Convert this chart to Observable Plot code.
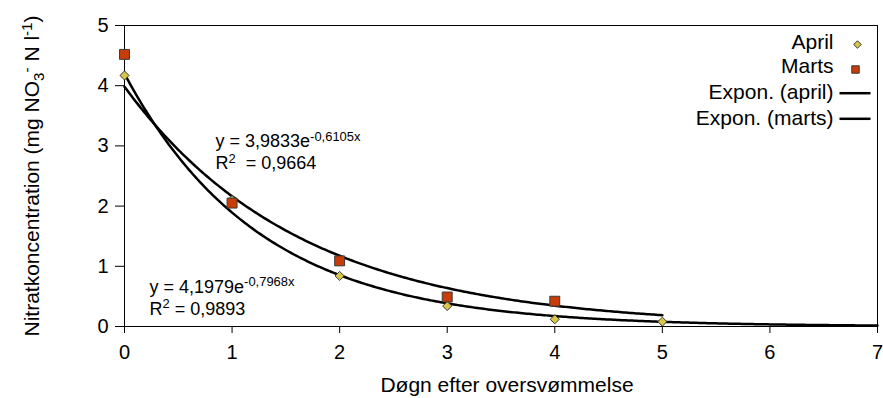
<!DOCTYPE html>
<html><head><meta charset="utf-8">
<script src="https://cdn.jsdelivr.net/npm/d3@7"></script>
<script src="https://cdn.jsdelivr.net/npm/@observablehq/plot@0.6"></script>
<style>body{margin:0;background:#fff}</style>
</head><body><div id="chart"></div>
<script>
// ---- data ----
const aprilDays = [0, 1, 2, 3, 4, 5];
const aprilValues = [4.17, 2.10, 0.84, 0.34, 0.12, 0.08];
const martsDays = [0, 1, 2, 3, 4];
const martsValues = [4.52, 2.05, 1.09, 0.49, 0.42];
// exponential trendlines as printed in the chart: y = a * e^(b x)
const aprilTrend = {a: 4.1979, b: -0.7968, from: 0, to: 7};
const martsTrend = {a: 3.9833, b: -0.6105, from: 0, to: 5};
const legendLabels = ["April", "Marts", "Expon. (april)", "Expon. (marts)"];
const eqApril = ["y = 4,1979e^{-0,7968x}", "R^{2} = 0,9893"];
const eqMarts = ["y = 3,9833e^{-0,6105x}", "R^{2}  = 0,9664"];
const xTicks = [0, 1, 2, 3, 4, 5, 6, 7];
const yTicks = [0, 1, 2, 3, 4, 5];
const xLabel = "Døgn efter oversvømmelse";
const yLabel = "Nitratkoncentration (mg NO_{3}^{-} N l^{-1})";

const aprilData = aprilDays.map((d, i) => ({x: d, y: aprilValues[i]}));
const martsData = martsDays.map((d, i) => ({x: d, y: martsValues[i]}));
const trendCurve = t => d3.range(t.from, t.to + 1e-9, 0.02).map(x => ({x, y: t.a * Math.exp(t.b * x)}));

const FONT = "'Liberation Sans', Arial, Helvetica, sans-serif";
const TICK = 20, MAIN = 21, EQ = 18;
const squareFill = "#c83c08", diamondFill = "#d8c64a", markStroke = "#3a3a3a";
const lineSymbol = {draw(ctx) { ctx.moveTo(-15.5, 0); ctx.lineTo(15.5, 0); }};

const legendText = (label, dy) => Plot.text([label], {frameAnchor: "top-right", textAnchor: "end", lineAnchor: "middle", dx: -44, dy, fontSize: MAIN});
const eqText = (lines, dx, dy, lineHeight) => Plot.text([lines.join("\n")], {frameAnchor: "top-left", textAnchor: "start", lineAnchor: "top", lineHeight, dx, dy, fontSize: EQ});

const chart = Plot.plot({
  width: 883, height: 398,
  marginLeft: 124, marginRight: 6, marginTop: 25, marginBottom: 72,
  style: {fontFamily: FONT, fontSize: MAIN + "px", background: "#fff", color: "#000"},
  x: {domain: [0, 7], label: null},
  y: {domain: [0, 5], label: null},
  marks: [
    Plot.frame({stroke: "#000", strokeWidth: 1}),
    Plot.axisX({ticks: xTicks, tickSize: 7, tickPadding: 11, fontSize: TICK, label: null, tickFormat: d => String(d)}),
    Plot.axisY({ticks: yTicks, tickSize: 9, tickPadding: 7, fontSize: TICK, label: null, tickFormat: d => String(d)}),
    Plot.line(trendCurve(martsTrend), {x: "x", y: "y", stroke: "#000", strokeWidth: 2.5}),
    Plot.line(trendCurve(aprilTrend), {x: "x", y: "y", stroke: "#000", strokeWidth: 2.5}),
    Plot.dot(aprilData, {x: "x", y: "y", symbol: "diamond2", r: 4.1, fill: diamondFill, stroke: markStroke, strokeWidth: 1}),
    Plot.dot(martsData, {x: "x", y: "y", symbol: "square", r: 5.6, fill: squareFill, stroke: markStroke, strokeWidth: 1}),
    // equations (two lines each)
    eqText(eqMarts, 91, 106.2, 1.22),
    eqText(eqApril, 25, 251.5, 1.22),
    // legend
    legendText(legendLabels[0], 16.5),
    Plot.dot([0], {frameAnchor: "top-right", dx: -20, dy: 19, symbol: "diamond2", r: 3.4, fill: diamondFill, stroke: markStroke, strokeWidth: 1}),
    legendText(legendLabels[1], 41),
    Plot.dot([0], {frameAnchor: "top-right", dx: -22, dy: 44, symbol: "square", r: 4.2, fill: squareFill, stroke: markStroke, strokeWidth: 1}),
    legendText(legendLabels[2], 66.5),
    Plot.dot([0], {frameAnchor: "top-right", dx: -22.5, dy: 67.7, symbol: lineSymbol, r: 5, fill: "none", stroke: "#000", strokeWidth: 2.5}),
    legendText(legendLabels[3], 93),
    Plot.dot([0], {frameAnchor: "top-right", dx: -22.5, dy: 93.3, symbol: lineSymbol, r: 5, fill: "none", stroke: "#000", strokeWidth: 2.5}),
    // axis titles
    Plot.text([xLabel], {frameAnchor: "bottom", textAnchor: "middle", lineAnchor: "middle", dx: 6, dy: 58.5, fontSize: MAIN}),
    Plot.text([yLabel], {frameAnchor: "left", textAnchor: "middle", lineAnchor: "middle", rotate: -90, dx: -92, dy: 0, fontSize: MAIN})
  ]
});

// rich text: ^{...} superscript, _{...} subscript
const NS = "http://www.w3.org/2000/svg";
d3.select(chart).selectAll("text").each(function () {
  const el = this;
  el.style.whiteSpace = "pre";
  if (!/[\^_]\{/.test(el.textContent)) return;
  let fs = NaN;
  for (let n = el; n && n !== chart && isNaN(fs); n = n.parentNode) {
    if (n.getAttribute && n.getAttribute("font-size")) fs = parseFloat(n.getAttribute("font-size"));
  }
  if (isNaN(fs)) fs = MAIN;
  const lines = el.children.length ? Array.from(el.children) : [el];
  let cur = 0;
  for (const line of lines) {
    if (line !== el) {
      if (line.hasAttribute("y")) cur = 0;
      else if (line.hasAttribute("dy") && cur) {
        line.setAttribute("dy", (parseFloat(line.getAttribute("dy")) * fs - cur).toFixed(2));
        cur = 0;
      }
    }
    const s = line.textContent;
    if (!/[\^_]\{/.test(s)) continue;
    const parts = []; const re = /([\^_])\{([^}]*)\}/g; let last = 0, m;
    while ((m = re.exec(s))) {
      if (m.index > last) parts.push({t: s.slice(last, m.index), k: 0});
      parts.push({t: m[2], k: m[1] === "^" ? 1 : -1});
      last = re.lastIndex;
    }
    if (last < s.length) parts.push({t: s.slice(last), k: 0});
    line.textContent = "";
    let local = 0;
    for (const p of parts) {
      const target = p.k === 1 ? -0.36 * fs : p.k === -1 ? 0.22 * fs : 0;
      const ts = document.createElementNS(NS, "tspan");
      if (target !== local) ts.setAttribute("dy", (target - local).toFixed(2));
      if (p.k) ts.setAttribute("font-size", (0.72 * fs).toFixed(2));
      ts.textContent = p.t;
      line.appendChild(ts);
      local = target;
    }
    cur = local;
  }
});
document.getElementById("chart").appendChild(chart);
</script>
</body></html>
